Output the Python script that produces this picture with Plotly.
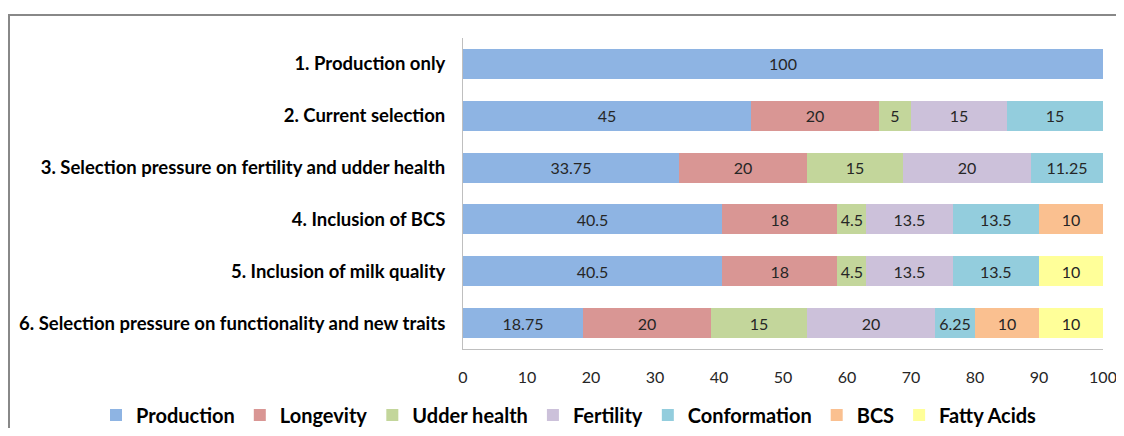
import plotly.graph_objects as go

categories = [
    "1. Production only",
    "2. Current selection",
    "3. Selection pressure on fertility and udder health",
    "4. Inclusion of BCS",
    "5. Inclusion of milk quality",
    "6. Selection pressure on functionality and new traits",
]
series_names = ["Production", "Longevity", "Udder health", "Fertility", "Conformation", "BCS", "Fatty Acids"]
production = [100, 45, 33.75, 40.5, 40.5, 18.75]
longevity = [None, 20, 20, 18, 18, 20]
udder_health = [None, 5, 15, 4.5, 4.5, 15]
fertility = [None, 15, 20, 13.5, 13.5, 20]
conformation = [None, 15, 11.25, 13.5, 13.5, 6.25]
bcs = [None, None, None, 10, None, 10]
fatty_acids = [None, None, None, None, 10, 10]
x_ticks = list(range(0, 101, 10))

colors = ["#8EB4E3", "#D99694", "#C3D69B", "#CCC1DA", "#93CDDD", "#FAC090", "#FFFF99"]
values = [production, longevity, udder_health, fertility, conformation, bcs, fatty_acids]

FONT = "Lato"
fig = go.Figure()
for name, vals, col in zip(series_names, values, colors):
    fig.add_trace(go.Bar(
        y=categories, x=vals, name=name, orientation="h",
        marker=dict(color=col, line=dict(width=0)),
        text=[("%g" % v) if v is not None else "" for v in vals],
        textposition="inside", insidetextanchor="middle",
        textfont=dict(family=FONT, size=16, color="#262626"),
        constraintext="none",
    ))

# page body has an 8px margin: the figure is drawn offset by (8, 8)
OFF = 8
W, H = 1124 - OFF, 436 - 2 * OFF
L, T = 463 - OFF, 38 - OFF
R = W - (1103 - OFF)
B = H - (349 - OFF)
pw, ph = W - L - R, H - T - B
def px(x): return (x - OFF - L) / pw
def py(y): return 1 - (y - OFF - T) / ph

fig.update_layout(
    width=W, height=H,
    barmode="stack", bargap=0.42,
    margin=dict(l=L, r=R, t=T, b=B, autoexpand=False),
    plot_bgcolor="white", paper_bgcolor="white",
    font=dict(family=FONT, color="#000"),
    uniformtext=dict(minsize=8, mode="show"),
    legend=dict(orientation="h", xref="paper", yref="paper",
                x=px(96), xanchor="left", y=py(415), yanchor="middle",
                font=dict(family=FONT, size=20, color="#000", weight="bold"),
                traceorder="normal", itemwidth=30),
    showlegend=True,
    shapes=[
        dict(type="line", xref="paper", yref="paper", x0=px(9), x1=px(9), y0=py(445), y1=py(15),
             line=dict(color="#888888", width=2)),
        dict(type="line", xref="paper", yref="paper", x0=px(8), x1=px(1140), y0=py(15), y1=py(15),
             line=dict(color="#888888", width=2)),
    ],
)
fig.update_yaxes(autorange="reversed", showline=True, linecolor="#BFBFBF", linewidth=1,
                 showgrid=False, ticks="", ticklabelstandoff=13, automargin=False,
                 tickfont=dict(family=FONT, size=18.5, color="#000", weight="bold"))
fig.update_xaxes(range=[0, 100], tickvals=x_ticks, showline=True, linecolor="#BFBFBF", linewidth=1,
                 showgrid=False, zeroline=False, ticks="", ticklabelstandoff=14, automargin=False,
                 tickfont=dict(family=FONT, size=16, color="#262626"))
fig.write_html("out.html")
